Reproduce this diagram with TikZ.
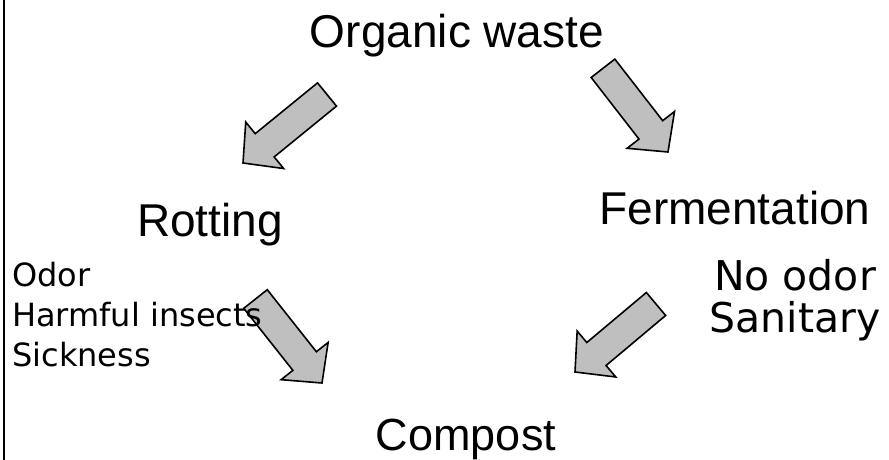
\documentclass[tikz,border=0pt]{standalone}
\usepackage{fontspec}
\setmainfont{Liberation Sans}
\newfontfamily\listfont{DejaVu Sans}
\usetikzlibrary{calc}
\tikzset{
  title/.style={anchor=base, inner sep=0pt, font=\fontsize{46}{50}\selectfont},
  item/.style={anchor=base west, inner sep=0pt, font=\listfont\fontsize{32}{36}\selectfont},
  ritem/.style={anchor=base, inner sep=0pt, font=\listfont\fontsize{41}{46}\selectfont},
  blockarrow/.style={draw=black, line width=1.6pt, fill=black!25, line join=miter}
}
% #1 name, #2 tail point, #3 tip point
\newcommand\blockarr[3]{%
  \coordinate (#1-tail) at #2;
  \coordinate (#1-tip) at #3;
  \coordinate (#1-neck) at ($(#1-tip)!28pt!(#1-tail)$);
  \coordinate (#1-t1) at ($(#1-tail)!15pt!90:(#1-tip)$);
  \coordinate (#1-t2) at ($(#1-tail)!15pt!-90:(#1-tip)$);
  \coordinate (#1-n1) at ($(#1-neck)!15pt!-90:(#1-tip)$);
  \coordinate (#1-n2) at ($(#1-neck)!15pt!90:(#1-tip)$);
  \coordinate (#1-b1) at ($(#1-neck)!30pt!-90:(#1-tip)$);
  \coordinate (#1-b2) at ($(#1-neck)!30pt!90:(#1-tip)$);
  \draw[blockarrow] (#1-t1) -- (#1-n2) -- (#1-b2) -- (#1-tip) -- (#1-b1) -- (#1-n1) -- (#1-t2) -- cycle;
}
\begin{document}
\begin{tikzpicture}[x=1pt,y=-1pt]
\useasboundingbox (0,0) rectangle (889,460);
\draw[line width=2pt] (4,0) -- (4,460);
\blockarr{a1}{(327,94.5)}{(243,163)}
\blockarr{a2}{(603,68.3)}{(668,152)}
\blockarr{a3}{(255.5,299)}{(322,383)}
\blockarr{a4}{(656,304)}{(575,372)}
\node[title] (org) at (457,48) {Organic waste};
\node[title] (rot) at (210,236) {Rotting};
\node[title] (fer) at (735,224) {Fermentation};
\node[title,font=\fontsize{45}{50}\selectfont] (com) at (466,450) {Compost};
\node[item] (i1) at (12,286) {Odor};
\node[item] (i2) at (12,326) {Harmful insects};
\node[item] (i3) at (12,366) {Sickness};
\node[ritem] (n1) at (795,290) {No odor};
\node[ritem] (n2) at (795,332) {Sanitary};
\end{tikzpicture}
\end{document}
